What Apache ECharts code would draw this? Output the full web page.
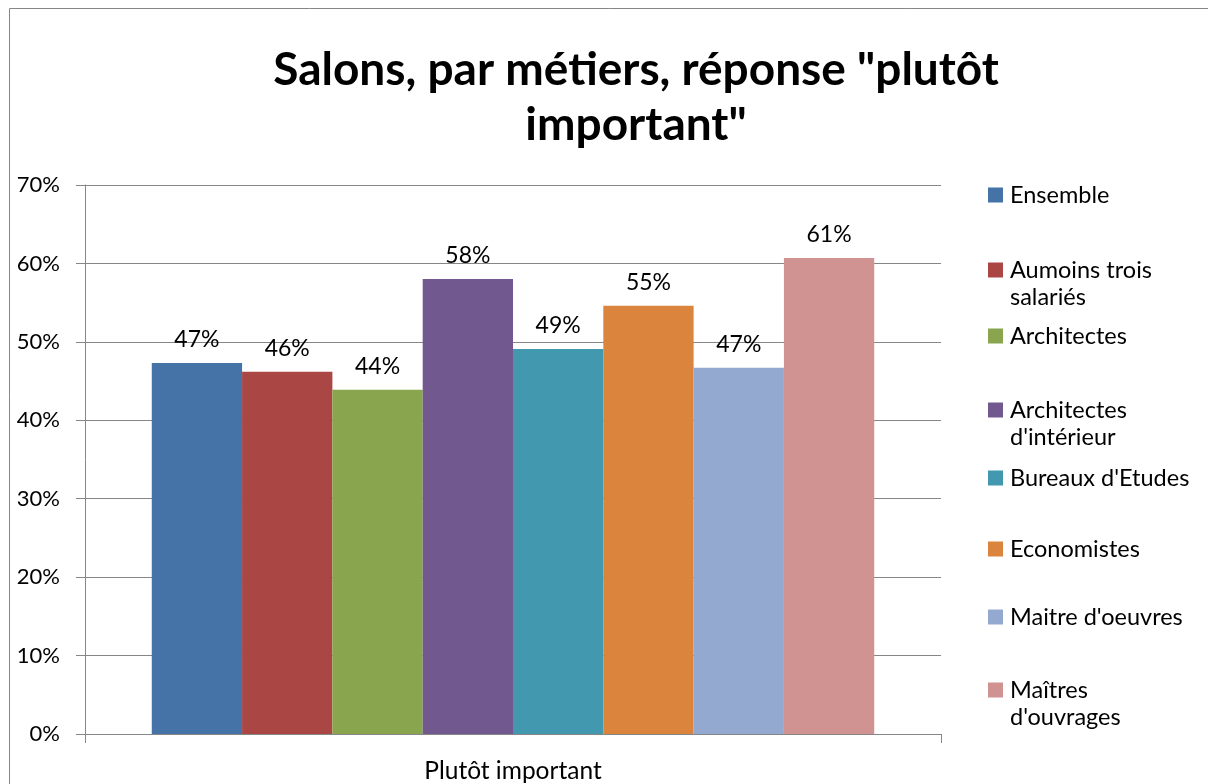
<!DOCTYPE html>
<html>
<head>
<meta charset="utf-8">
<script src="https://cdn.jsdelivr.net/npm/echarts@6/dist/echarts.min.js"></script>
<style>
  html, body { margin: 0; padding: 0; background: #fff; }
  #main { width: 1208px; height: 784px; }
</style>
</head>
<body>
<div id="main"></div>
<script>
var categories = ['Plutôt important'];
var seriesNames = ['Ensemble', 'Aumoins trois salariés', 'Architectes', "Architectes d'intérieur",
  "Bureaux d'Etudes", 'Economistes', "Maitre d'oeuvres", "Maîtres d'ouvrages"];
var legendLabels = ['Ensemble', 'Aumoins trois\nsalariés', 'Architectes', "Architectes\nd'intérieur",
  "Bureaux d'Etudes", 'Economistes', "Maitre d'oeuvres", "Maîtres\nd'ouvrages"];
var values = [0.473, 0.462, 0.439, 0.580, 0.491, 0.546, 0.467, 0.607];
var colors = ['#4572A7', '#AA4643', '#89A54E', '#71588F', '#4198AF', '#DB843D', '#93A9CF', '#D19392'];
var yTicks = [0, 0.1, 0.2, 0.3, 0.4, 0.5, 0.6, 0.7];

// legend rows (centre of the icon)
var legendRows = [195, 270, 336, 410, 478, 549, 617, 690];

var FONT = 'Lato';
var chart = echarts.init(document.getElementById('main'));

var legends = seriesNames.map(function (name, i) {
  var label = legendLabels[i];
  // blank first line so the icon stays level with the first text line
  var txt = label.indexOf('\n') >= 0 ? ' \n' + label : label;
  var lines = txt.split('\n').length;
  return {
    orient: 'vertical',
    left: 988,
    top: legendRows[i] - lines * 27 / 2,
    padding: 0,
    itemWidth: 15,
    itemHeight: 15,
    itemGap: 0,
    icon: 'rect',
    selectedMode: false,
    data: [name],
    formatter: function () { return txt; },
    textStyle: { fontFamily: FONT, fontSize: 23.5, color: '#000', lineHeight: 27, padding: [0, 0, 0, 2] }
  };
});

var series = seriesNames.map(function (name, i) {
  return {
    name: name,
    type: 'bar',
    barGap: 0,
    barCategoryGap: '15.6%',
    itemStyle: { color: colors[i] },
    label: {
      show: true,
      position: 'top',
      distance: 12,
      fontFamily: FONT,
      fontSize: 23,
      color: '#000',
      formatter: function (p) { return Math.round(p.value * 100) + '%'; }
    },
    data: [values[i]]
  };
});

chart.setOption({
  animation: false,
  color: colors,
  title: {
    text: 'Salons, par métiers, réponse "plutôt\nimportant"',
    left: 631,
    top: 38,
    textAlign: 'center',
    textStyle: { fontFamily: FONT, fontSize: 46, fontWeight: 'bold', color: '#000', lineHeight: 55 }
  },
  grid: { left: 85, right: 267, top: 185, bottom: 48 },
  legend: legends,
  xAxis: {
    type: 'category',
    data: categories,
    axisLine: { lineStyle: { color: '#868686', width: 1 } },
    axisTick: { show: true, length: 9, lineStyle: { color: '#868686' } },
    axisLabel: { fontFamily: FONT, fontSize: 24.5, color: '#000', margin: 25 }
  },
  yAxis: {
    type: 'value',
    min: yTicks[0],
    max: yTicks[yTicks.length - 1],
    interval: 0.1,
    axisLine: { show: true, lineStyle: { color: '#868686', width: 1 } },
    axisTick: { show: true, inside: false, length: 9, lineStyle: { color: '#868686' } },
    splitLine: { lineStyle: { color: '#868686', width: 1 } },
    axisLabel: {
      fontFamily: FONT, fontSize: 22, color: '#000', margin: 25,
      formatter: function (v) { return Math.round(v * 100) + '%'; }
    }
  },
  graphic: [{
    type: 'rect',
    shape: { x: 9.5, y: 8.5, width: 1210, height: 800 },
    style: { fill: 'none', stroke: '#868686', lineWidth: 1 },
    silent: true
  }],
  series: series
});
</script>
</body>
</html>
